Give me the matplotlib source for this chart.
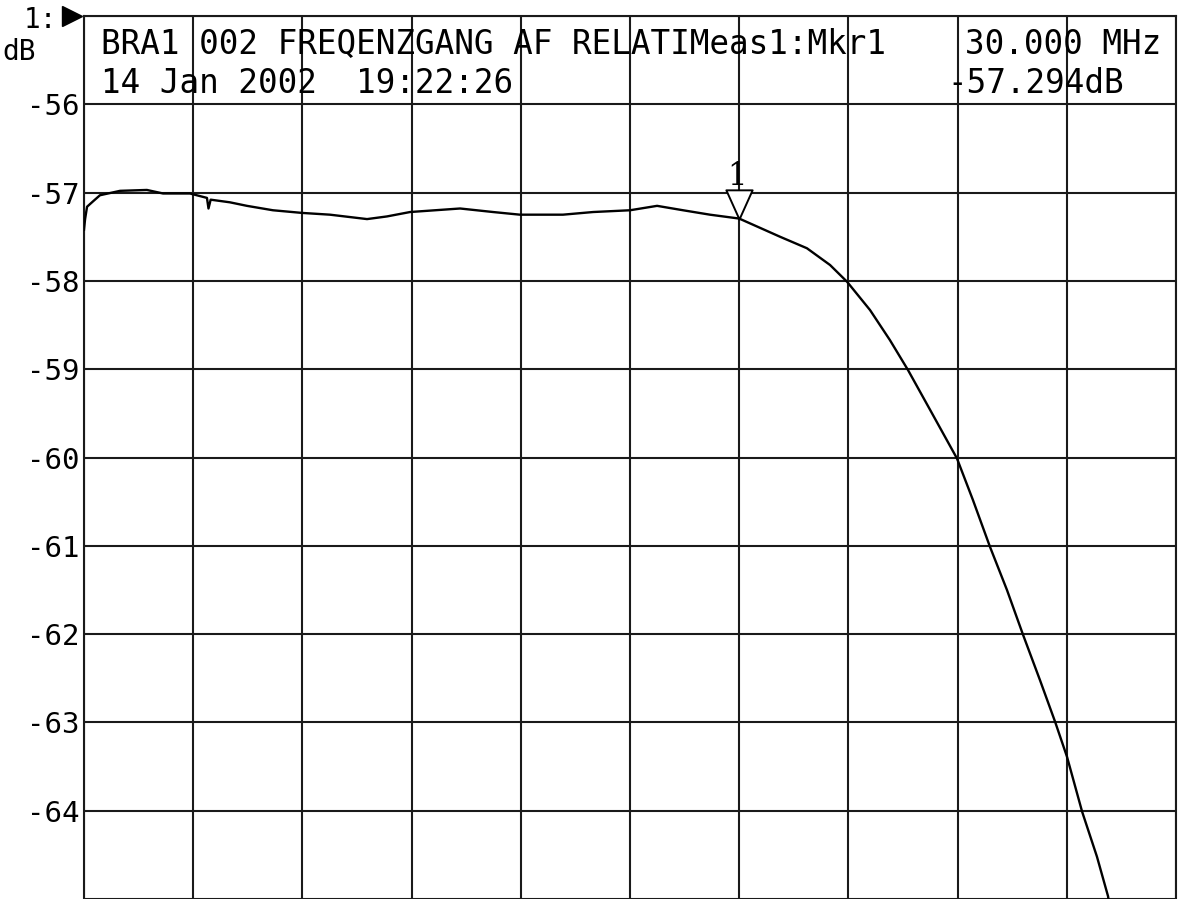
import matplotlib
matplotlib.use("Agg")
import matplotlib.pyplot as plt
import numpy as np
from matplotlib.path import Path

# ---- data ----
freq_mhz = [0.0, 0.05, 0.14, 0.41, 0.73, 1.65, 2.88, 3.62, 4.85, 5.63, 5.70, 5.80,
            6.68, 7.46, 8.65, 9.98, 11.26, 12.96, 13.87, 14.93, 17.22, 18.73, 19.96,
            21.93, 23.31, 25.0, 26.24, 27.43, 28.66, 30.0, 31.87, 33.1, 34.16, 34.94,
            35.99, 36.9, 37.73, 38.74, 39.97, 40.7, 41.48, 42.26, 43.0, 43.77, 44.46,
            45.01, 45.7, 46.38, 46.89, 47.2]
level_db = [-57.42, -57.30, -57.16, -57.10, -57.03, -56.98, -56.97, -57.01, -57.01,
            -57.06, -57.18, -57.08, -57.11, -57.15, -57.20, -57.23, -57.25, -57.30,
            -57.27, -57.22, -57.18, -57.22, -57.25, -57.25, -57.22, -57.20, -57.15,
            -57.20, -57.25, -57.294, -57.50, -57.63, -57.82, -58.01, -58.33, -58.67,
            -59.01, -59.46, -60.01, -60.48, -61.01, -61.5, -62.01, -62.52, -62.99,
            -63.39, -64.01, -64.52, -64.97, -65.5]

x_start, x_stop = 0, 50
y_top, y_bottom = -55, -65
y_ticks = list(range(-65, -54))
y_tick_labels = ["" if v in (-65, -55) else str(v) for v in y_ticks]
x_ticks = list(range(0, 51, 5))

marker_freq = 30.0
marker_level = -57.294
marker_name = "1"

header_line1 = "BRA1 002 FREQENZGANG AF RELATIMeas1:Mkr1"
header_line2 = "14 Jan 2002  19:22:26"
marker_freq_text = "30.000 MHz"
marker_level_text = "-57.294dB"

# ---- figure ----
W, H = 1189, 899
fig = plt.figure(figsize=(W / 100, H / 100), dpi=100)
ax = fig.add_axes([84 / W, 0.0, 1092 / W, 883 / H])

mono = "DejaVu Sans Mono"
gridc = "#1a1a1a"

ax.set_xlim(x_start, x_stop)
ax.set_ylim(y_bottom, y_top)
ax.set_xticks(x_ticks)
ax.set_yticks(y_ticks)
ax.set_yticklabels(y_tick_labels, fontfamily=mono, fontsize=21)
ax.set_xticklabels([])
ax.tick_params(axis="both", length=0, pad=3)
ax.grid(True, color=gridc, linewidth=1.5)
for s in ax.spines.values():
    s.set_color(gridc)
    s.set_linewidth(1.5)
ax.spines["bottom"].set_visible(False)

ax.plot(freq_mhz, level_db, color="black", linewidth=1.7, zorder=3)

# marker triangle (tip at marker point)
tri = Path([(0, 0), (-0.45, 1), (0.45, 1), (0, 0)],
           [Path.MOVETO, Path.LINETO, Path.LINETO, Path.CLOSEPOLY])
ax.plot([marker_freq], [marker_level], marker=tri, markersize=42,
        markerfacecolor="white", markeredgecolor="black", markeredgewidth=1.4,
        linestyle="none", zorder=4)
ax.text(marker_freq - 0.1, -56.82, marker_name, ha="center", va="center",
        fontfamily="DejaVu Serif", fontsize=22, zorder=5)

# header texts
fs = 23.5
ax.text(0.78, -55.32, header_line1, ha="left", va="center",
        fontfamily=mono, fontsize=fs, zorder=5)
ax.text(0.78, -55.76, header_line2, ha="left", va="center",
        fontfamily=mono, fontsize=fs, zorder=5)
ax.text(40.34, -55.32, marker_freq_text, ha="left", va="center",
        fontfamily=mono, fontsize=fs, zorder=5)
ax.text(39.52, -55.76, marker_level_text, ha="left", va="center",
        fontfamily=mono, fontsize=fs, zorder=5)

# top-left labels
fig.text(24 / W, 1 - 20 / H, "1:", ha="left", va="center",
         fontfamily=mono, fontsize=20)
fig.text(2 / W, 1 - 52 / H, "dB", ha="left", va="center",
         fontfamily=mono, fontsize=20)
ax.plot([-0.011], [1.0], marker=">", markersize=14, color="black",
        transform=ax.transAxes, clip_on=False)

fig.savefig("out.png", dpi=100)
